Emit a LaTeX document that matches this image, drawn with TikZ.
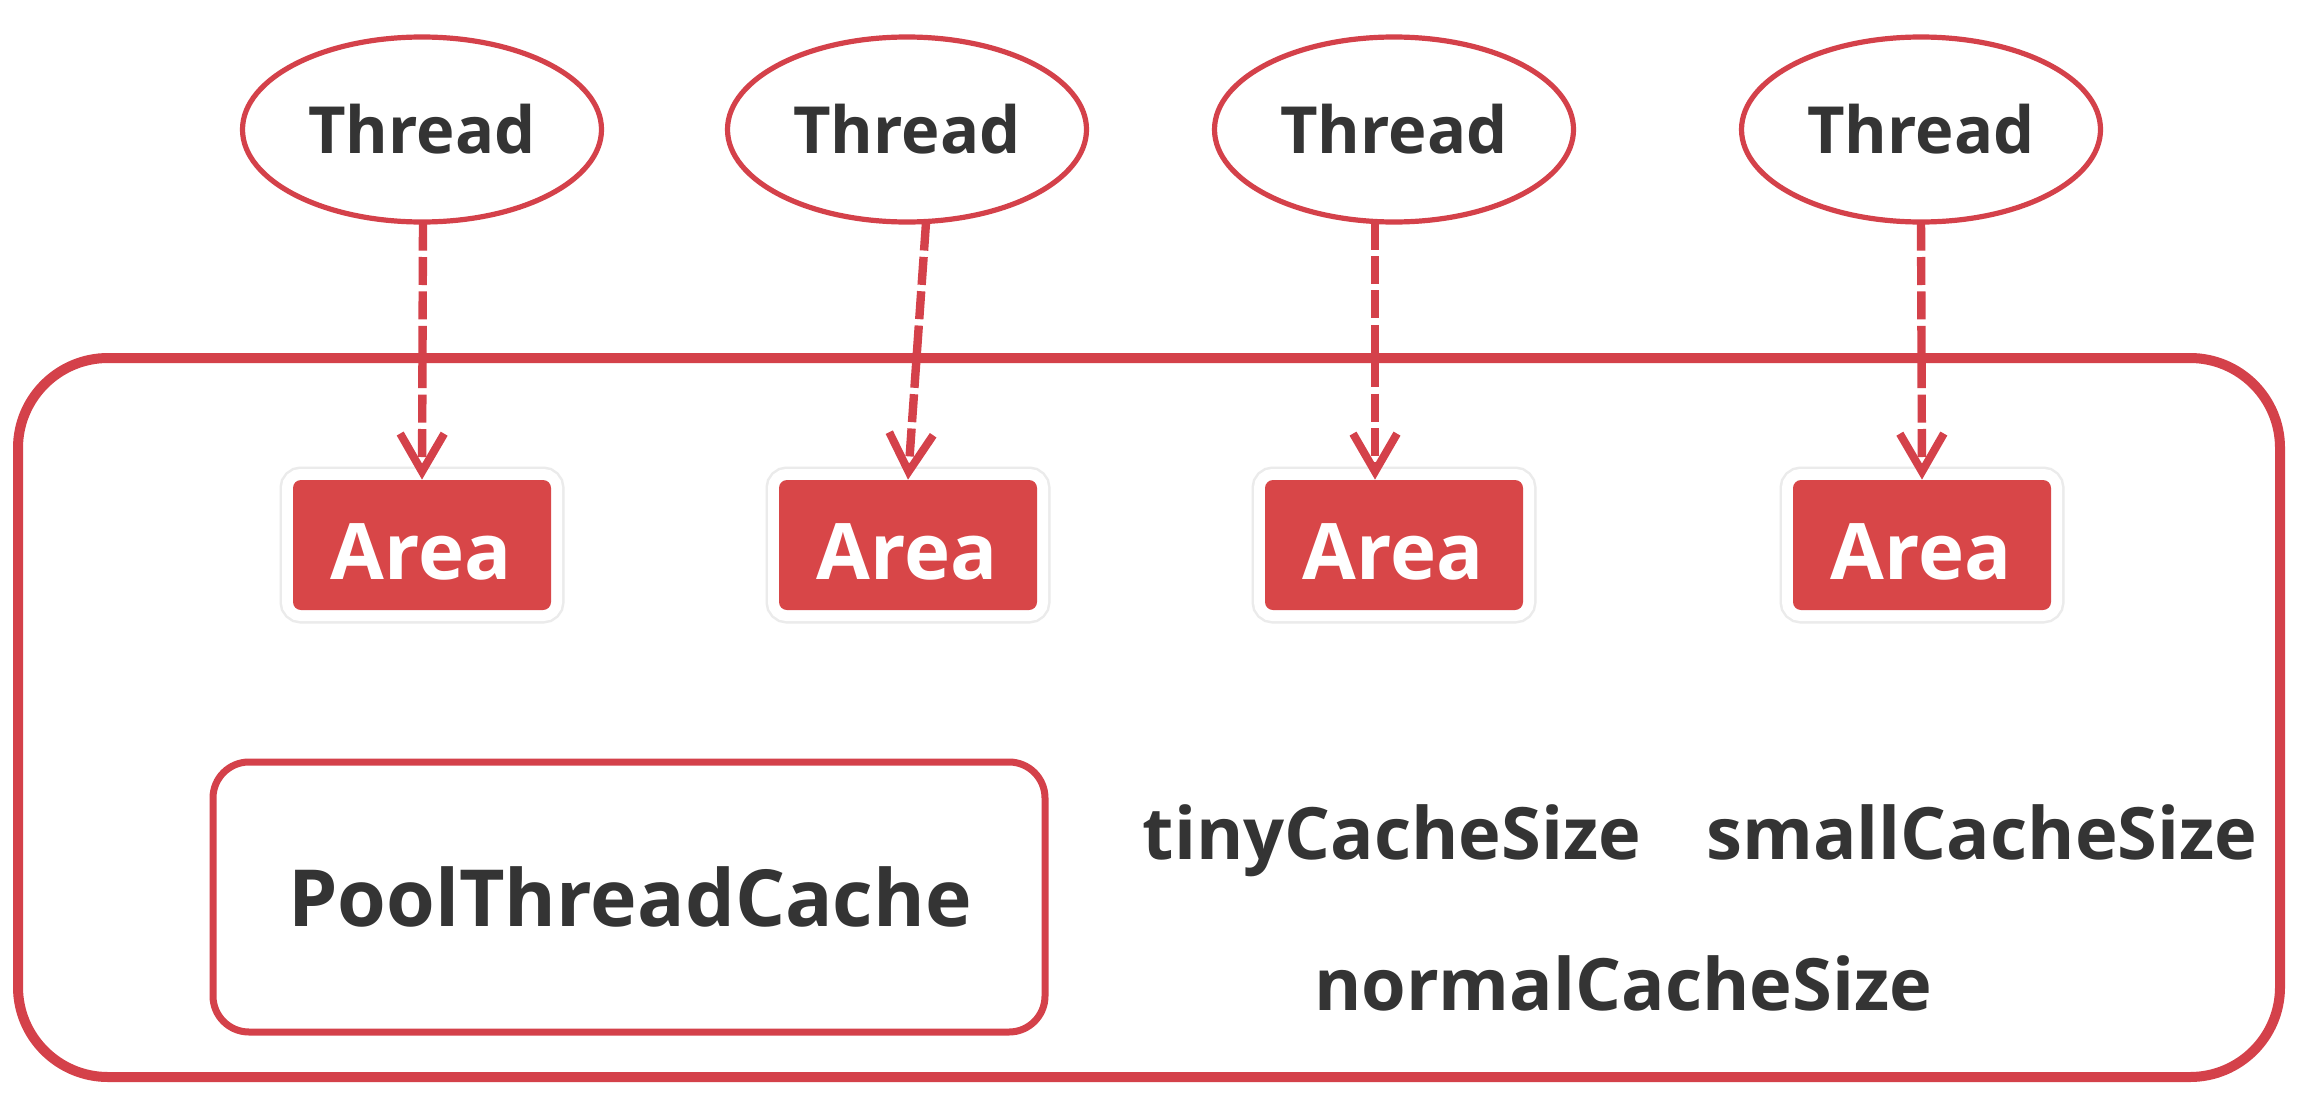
\documentclass[tikz,border=0pt]{standalone}
\usepackage{fontspec}
\setmainfont{Open Sans}
\usetikzlibrary{arrows.meta,shapes.geometric,calc}
\definecolor{lred}{RGB}{212,65,74}
\definecolor{areared}{RGB}{216,70,72}
\definecolor{txt}{RGB}{52,52,52}
\tikzset{
  threadnode/.style={ellipse, draw=lred, line width=2.6pt, fill=white,
    minimum width=179.5pt, minimum height=92.5pt, inner sep=0pt},
  areabox/.style={rectangle, rounded corners=4pt, fill=areared,
    minimum width=129pt, minimum height=65pt, inner sep=0pt,
    preaction={draw=black!8, line width=13.5pt},
    preaction={draw=white, line width=11pt}},
  poolbox/.style={rectangle, rounded corners=18pt, draw=lred, line width=3.5pt,
    fill=white, minimum width=416pt, minimum height=135pt, inner sep=0pt},
  outerbox/.style={draw=lred, line width=5pt, rounded corners=45pt},
  lbl/.style={text=txt, inner sep=0pt, anchor=base, font=\bfseries\fontsize{36.1pt}{40pt}\selectfont},
  threadlbl/.style={lbl, font=\bfseries\fontsize{32.5pt}{36pt}\selectfont},
  arealbl/.style={lbl, text=white, font=\bfseries\fontsize{39pt}{44pt}\selectfont},
  conn/.style={draw=lred, line width=4.2pt, dash pattern=on 14pt off 3.2pt,
    -{Straight Barb[length=19pt,width=22pt,line width=4pt]}}
}
\begin{document}
\begin{tikzpicture}[x=0.5pt,y=-0.5pt]
\useasboundingbox (0,0) rectangle (2300,1092);
\fill[white] (0,0) rectangle (2300,1092);
% outer container
\draw[outerbox] (18,358) rectangle (2280,1077);
% threads
\node[threadnode] (t1) at (422,129.5) {};
\node[threadnode] (t2) at (907,129.5) {};
\node[threadnode] (t3) at (1394,129.5) {};
\node[threadnode] (t4) at (1921,129.5) {};
\node[threadlbl] (tl1) at (422,153) {Thread};
\node[threadlbl] (tl2) at (907,153) {Thread};
\node[threadlbl] (tl3) at (1394,153) {Thread};
\node[threadlbl] (tl4) at (1921,153) {Thread};
% areas
\node[areabox] (a1) at (422,545) {};
\node[areabox] (a2) at (908,545) {};
\node[areabox] (a3) at (1394,545) {};
\node[areabox] (a4) at (1922,545) {};
\node[arealbl] (al1) at (421,579) {Area};
\node[arealbl] (al2) at (907,579) {Area};
\node[arealbl] (al3) at (1393,579) {Area};
\node[arealbl] (al4) at (1921,579) {Area};
% pool thread cache
\node[poolbox] (pool) at (629,897) {};
\node[lbl, font=\bfseries\fontsize{39.4pt}{44pt}\selectfont] (pooll) at (630,926) {PoolThreadCache};
% sizes
\node[lbl] (tiny) at (1392,859) {tinyCacheSize};
\node[lbl] (small) at (1982,859) {smallCacheSize};
\node[lbl] (normal) at (1623,1010) {normalCacheSize};
% connectors
\draw[conn] ($(t1.south)+(1,-2)$) -- (a1.north);
\draw[conn] ($(t2.south)+(19,-2)$) -- (a2.north);
\draw[conn] ($(t3.south)+(-19,-3)$) -- ($(a3.north)+(-19,0)$);
\draw[conn] ($(t4.south)+(0,-2)$) -- (a4.north);
\end{tikzpicture}
\end{document}
